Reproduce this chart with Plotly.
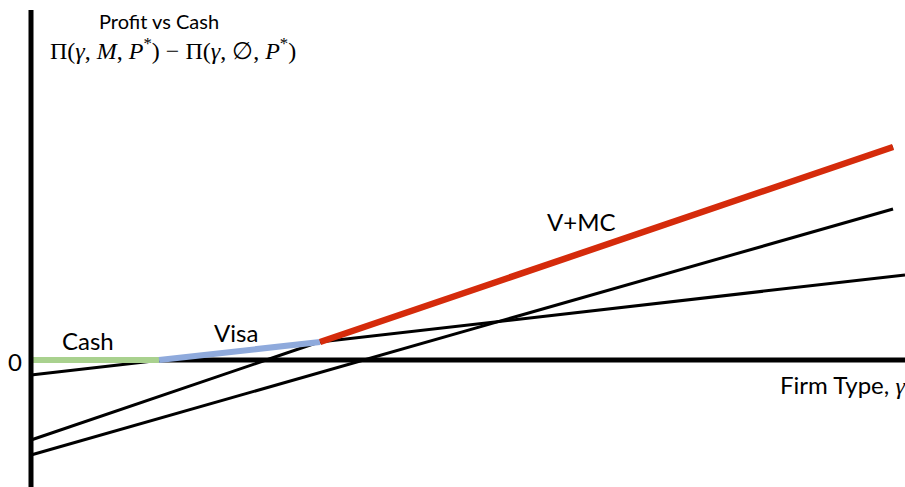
import plotly.graph_objects as go

# ---- data (gamma = firm type, profit relative to cash) ----
cash_x = [0.0, 0.1465]
cash_y = [0.0, 0.0]
visa_x = [0.1465, 0.3307]
visa_y = [0.0, 0.18]
vmc_x = [0.3307, 0.9863]
vmc_y = [0.18, 2.13]

lineA_x = [0.0, 1.0]
lineA_y = [-0.15, 0.85]
lineB_x = [0.0, 0.9863]
lineB_y = [-0.80, 2.13]
lineC_x = [0.0, 0.9863]
lineC_y = [-0.95, 1.51]

axis_h_x = [0.0, 1.0]
axis_h_y = [0.0, 0.0]
axis_v_x = [0.0, 0.0]
axis_v_y = [-1.3, 3.5]

X_RANGE = [-0.03547, 1.0]
Y_RANGE = [-1.27, 3.6]

fig = go.Figure()

for xs, ys in [(lineA_x, lineA_y), (lineB_x, lineB_y), (lineC_x, lineC_y)]:
    fig.add_trace(go.Scatter(x=xs, y=ys, mode="lines",
                             line=dict(color="black", width=3), hoverinfo="skip"))

fig.add_trace(go.Scatter(x=axis_h_x, y=axis_h_y, mode="lines",
                         line=dict(color="black", width=5), hoverinfo="skip"))

fig.add_trace(go.Scatter(x=cash_x, y=cash_y, mode="lines",
                         line=dict(color="#a9d18e", width=6), hoverinfo="skip"))
fig.add_trace(go.Scatter(x=visa_x, y=visa_y, mode="lines",
                         line=dict(color="#8faadc", width=6), hoverinfo="skip"))
fig.add_trace(go.Scatter(x=vmc_x, y=vmc_y, mode="lines",
                         line=dict(color="#d52b0b", width=6.5), hoverinfo="skip"))

fig.add_trace(go.Scatter(x=axis_v_x, y=axis_v_y, mode="lines",
                         line=dict(color="black", width=5), hoverinfo="skip"))

sans = "Lato"
serif = "Liberation Serif"

ann = [
    dict(x=0.1465, y=3.39, text="Profit vs Cash", font=dict(family=sans, size=20)),
    dict(x=0.1625, y=3.11,
         text="Π(<i>γ</i>, <i>M</i>, <i>P</i><sup>*</sup>) − Π(<i>γ</i>, ∅, <i>P</i><sup>*</sup>)",
         font=dict(family=serif, size=24)),
    dict(x=0.0652, y=0.20, text="Cash", font=dict(family=sans, size=24)),
    dict(x=0.2346, y=0.28, text="Visa", font=dict(family=sans, size=24)),
    dict(x=0.6293, y=1.39, text="V+MC", font=dict(family=sans, size=24)),
    dict(x=-0.0183, y=-0.01, text="0", font=dict(family=sans, size=24)),
    dict(x=0.855, y=-0.24, xanchor="left",
         text="Firm Type, <span style=\"font-family:'Liberation Serif'\"><i>γ</i></span>",
         font=dict(family=sans, size=24)),
]
for a in ann:
    a.setdefault("xanchor", "center")
    a.update(showarrow=False, yanchor="middle", xref="x", yref="y",
             font=dict(color="black", **a["font"]))
    fig.add_annotation(**a)

fig.update_layout(
    width=905, height=487,
    margin=dict(l=0, r=0, t=0, b=0),
    paper_bgcolor="white", plot_bgcolor="white",
    showlegend=False,
    xaxis=dict(range=X_RANGE, visible=False, fixedrange=True),
    yaxis=dict(range=Y_RANGE, visible=False, fixedrange=True),
)

fig.write_html("out.html")
